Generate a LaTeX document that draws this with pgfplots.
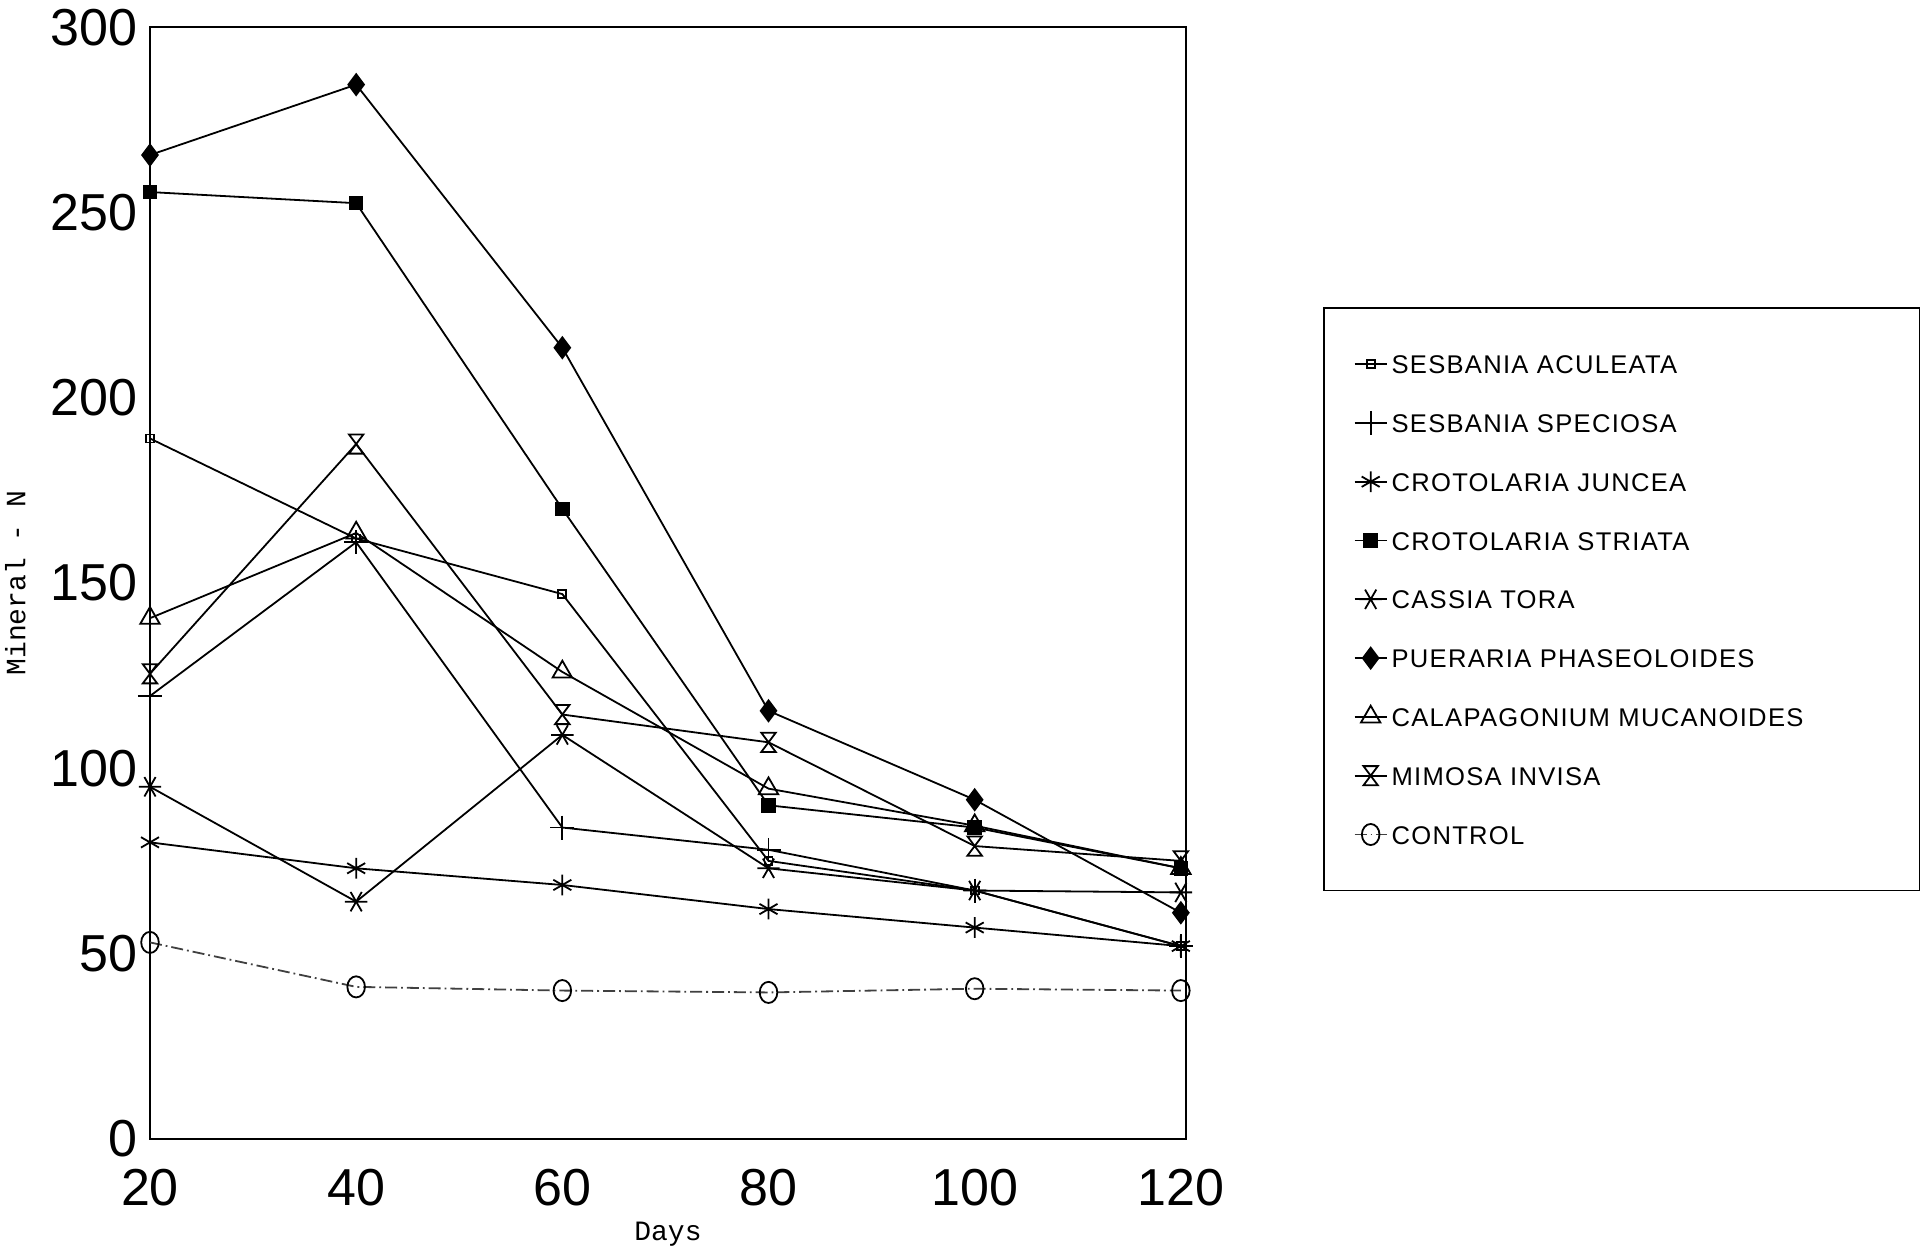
\documentclass[border=0pt]{standalone}
\usepackage{fontspec}
\setmainfont{Liberation Sans}
\newfontfamily\legendfont[LetterSpace=5]{Liberation Sans}
\newfontfamily\labelmono{Liberation Mono}
\usepackage{pgfplots}
\pgfplotsset{compat=1.18}

\pgfdeclareplotmark{hourglass}{%
  \pgfpathmoveto{\pgfpoint{-0.75\pgfplotmarksize}{\pgfplotmarksize}}%
  \pgfpathlineto{\pgfpoint{0.75\pgfplotmarksize}{\pgfplotmarksize}}%
  \pgfpathlineto{\pgfpoint{-0.75\pgfplotmarksize}{-\pgfplotmarksize}}%
  \pgfpathlineto{\pgfpoint{0.75\pgfplotmarksize}{-\pgfplotmarksize}}%
  \pgfpathclose
  \pgfusepathqstroke}

\newcommand{\LE}[1]{\makebox[123.5pt][l]{#1}}

\begin{document}
\begin{tikzpicture}
\useasboundingbox (-37.5pt,-27.8pt) rectangle (443.5pt,284.7pt);
\begin{axis}[
  at={(0pt,0pt)}, anchor=south west,
  scale only axis, width=259pt, height=277.9pt,
  xmin=20, xmax=120.5, ymin=0, ymax=300,
  xtick={20,40,...,120}, ytick={0,50,...,300},
  major tick length=0pt,
  tick label style={font=\fontsize{13}{13}\selectfont},
  /pgf/number format/assume math mode=true,
  yticklabel style={inner sep=0pt, xshift=-3pt},
  xticklabel style={inner sep=0pt, yshift=-7.5pt},
  xlabel={Days}, ylabel={Mineral - N},
  label style={font=\labelmono\fontsize{7}{8}\selectfont},
  xlabel style={at={(axis description cs:0.5,-0.0854)}, anchor=center},
  ylabel style={at={(axis description cs:-0.130,0.5)}, anchor=center},
  axis line style={line width=0.5pt},
  every axis plot/.append style={line width=0.45pt, black},
  legend style={at={(1.1322,0.748)}, anchor=north west, draw=black,
    font=\legendfont\fontsize{6.4}{7}\selectfont,
    inner xsep=7.5pt, inner ysep=10.6pt, row sep=7.9pt,
    nodes={inner sep=1pt, text height=4.8pt, text depth=0pt}},
  legend cell align=left,
  legend image code/.code={\draw[mark repeat=2,mark phase=2,#1] plot coordinates {(-4pt,0pt) (0pt,0pt) (4pt,0pt)};},
]
% SESBANIA ACULEATA
\addplot[mark=square, mark size=1pt] coordinates {(20,189) (40,162) (60,147) (80,75) (100,67) (120,52)};
\addlegendentry{\LE{SESBANIA ACULEATA}}
% SESBANIA SPECIOSA
\addplot[mark=+, mark size=3pt] coordinates {(20,119.5) (40,161) (60,84) (80,78) (100,67) (120,52)};
\addlegendentry{\LE{SESBANIA SPECIOSA}}
% CROTOLARIA JUNCEA
\addplot[mark=asterisk, mark size=2.6pt] coordinates {(20,80) (40,73) (60,68.5) (80,62) (100,57) (120,52)};
\addlegendentry{\LE{CROTOLARIA JUNCEA}}
% CROTOLARIA STRIATA
\addplot[mark=square*, mark size=1.6pt] coordinates {(20,255.5) (40,252.5) (60,170) (80,90) (100,84) (120,73)};
\addlegendentry{\LE{CROTOLARIA STRIATA}}
% CASSIA TORA
\addplot[mark=asterisk, mark size=2.8pt, mark options={rotate=90}] coordinates {(20,95) (40,64) (60,109) (80,73) (100,67) (120,66.5)};
\addlegendentry{\LE{CASSIA TORA}}
% PUERARIA PHASEOLOIDES
\addplot[mark=diamond*, mark size=2.6pt] coordinates {(20,265.5) (40,284.5) (60,213.5) (80,115.5) (100,91.5) (120,61)};
\addlegendentry{\LE{PUERARIA PHASEOLOIDES}}
% CALAPAGONIUM MUCANOIDES
\addplot[mark=triangle, mark size=2.8pt] coordinates {(20,140.5) (40,163.5) (60,126) (80,94.5) (100,84.5) (120,73)};
\addlegendentry{\LE{CALAPAGONIUM MUCANOIDES}}
% MIMOSA INVISA
\addplot[mark=hourglass, mark size=2.4pt] coordinates {(20,125.5) (40,187.5) (60,114.5) (80,107) (100,79) (120,75)};
\addlegendentry{\LE{MIMOSA INVISA}}
% CONTROL
\addplot[black!75, densely dashdotted, mark=o, mark size=2.2pt, mark options={solid, black, yscale=1.2}] coordinates {(20,53) (40,41) (60,40) (80,39.5) (100,40.5) (120,40)};
\addlegendentry{\LE{CONTROL}}
\end{axis}
\end{tikzpicture}
\end{document}
